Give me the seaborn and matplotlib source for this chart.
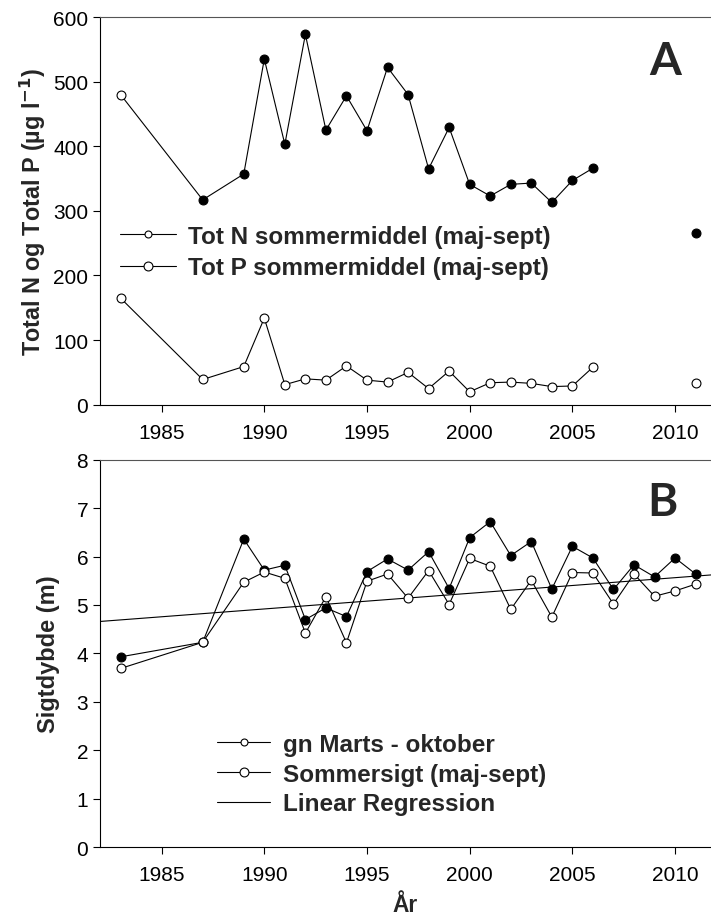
import numpy as np
import matplotlib
matplotlib.use("Agg")
import matplotlib.pyplot as plt
from matplotlib.lines import Line2D
import seaborn as sns

# Panel A: total N and total P, summer means (ug/l)
n_years = [1983, 1987, 1989, 1990, 1991, 1992, 1993, 1994, 1995, 1996, 1997,
           1998, 1999, 2000, 2001, 2002, 2003, 2004, 2005, 2006]
n_values = [480, 317, 357, 535, 403, 573, 425, 478, 424, 522, 480,
            365, 429, 341, 323, 341, 343, 313, 347, 366]
n_late_year = [2011]
n_late_value = [265]

p_years = [1983, 1987, 1989, 1990, 1991, 1992, 1993, 1994, 1995, 1996, 1997,
           1998, 1999, 2000, 2001, 2002, 2003, 2004, 2005, 2006]
p_values = [165, 39, 59, 134, 31, 40, 38, 60, 38, 35, 50,
            25, 52, 20, 34, 35, 33, 28, 29, 58]
p_late_year = [2011]
p_late_value = [34]

# Panel B: Secchi depth (m)
s_years = [1983, 1987, 1989, 1990, 1991, 1992, 1993, 1994, 1995, 1996, 1997,
           1998, 1999, 2000, 2001, 2002, 2003, 2004, 2005, 2006, 2007, 2008,
           2009, 2010, 2011]
marts_okt = [3.93, 4.23, 6.36, 5.72, 5.82, 4.70, 4.94, 4.76, 5.69, 5.95, 5.72,
             6.10, 5.34, 6.39, 6.72, 6.02, 6.31, 5.33, 6.21, 5.97, 5.32, 5.83,
             5.58, 5.97, 5.64]
sommer = [3.69, 4.23, 5.47, 5.68, 5.55, 4.42, 5.17, 4.22, 5.49, 5.64, 5.14,
          5.71, 5.01, 5.96, 5.80, 4.91, 5.51, 4.75, 5.67, 5.66, 5.02, 5.64,
          5.18, 5.29, 5.43]
reg_years = [1982, 2011.75]
reg_values = [4.66, 5.62]

sns.set_theme(style="ticks")
plt.rcParams["font.family"] = ["Liberation Sans", "DejaVu Sans"]

fig = plt.figure(figsize=(7.11, 9.20), dpi=100)
ax1 = fig.add_axes([100 / 711, 1 - 405.7 / 920, 611 / 711, 387.7 / 920])
ax2 = fig.add_axes([100 / 711, 1 - 848.3 / 920, 611 / 711, 387.7 / 920])

lw = 0.8
ms = 6.4
filled = dict(marker="o", markersize=ms, markerfacecolor="black",
              markeredgecolor="black", markeredgewidth=0.8)
hollow = dict(marker="o", markersize=ms, markerfacecolor="white",
              markeredgecolor="black", markeredgewidth=0.8)

# --- panel A
sns.lineplot(x=n_years, y=n_values, ax=ax1, color="black", lw=lw)
sns.lineplot(x=p_years, y=p_values, ax=ax1, color="black", lw=lw)
ax1.plot(n_years[:1], n_values[:1], ls="none", **hollow)
ax1.plot(n_years[1:], n_values[1:], ls="none", **filled)
ax1.plot(n_late_year, n_late_value, ls="none", **filled)
ax1.plot(p_years, p_values, ls="none", **hollow)
ax1.plot(p_late_year, p_late_value, ls="none", **hollow)

ax1.set_ylim(0, 600)
ax1.set_yticks([0, 100, 200, 300, 400, 500, 600])
ax1.set_ylabel("Total N og Total P (µg l$^{\\mathbf{-1}}$)",
               fontsize=16.8, fontweight="bold", labelpad=4)
ax1.text(0.925, 0.886, "A", transform=ax1.transAxes, ha="center", va="center",
         fontsize=33, fontweight="bold", family=["Lato", "DejaVu Sans"])

hA = [Line2D([], [], color="black", lw=lw, marker="o", markersize=5,
             markerfacecolor="white", markeredgecolor="black", markeredgewidth=0.8),
      Line2D([], [], color="black", lw=lw, **hollow)]
ax1.legend(hA, ["Tot N sommermiddel (maj-sept)", "Tot P sommermiddel (maj-sept)"],
           loc="center left", bbox_to_anchor=(0.033, 0.394), frameon=False,
           prop=dict(size=17.5, weight="bold"), handlelength=2.3,
           handletextpad=0.5, labelspacing=0.35, borderpad=0, borderaxespad=0)

# --- panel B
sns.lineplot(x=s_years, y=marts_okt, ax=ax2, color="black", lw=lw)
sns.lineplot(x=s_years, y=sommer, ax=ax2, color="black", lw=lw)
sns.lineplot(x=reg_years, y=reg_values, ax=ax2, color="black", lw=lw)
ax2.plot(s_years, marts_okt, ls="none", **filled)
ax2.plot(s_years, sommer, ls="none", **hollow)

ax2.set_ylim(0, 8)
ax2.set_yticks(range(0, 9))
ax2.set_ylabel("Sigtdybde (m)", fontsize=17, fontweight="bold", labelpad=12)
ax2.set_xlabel("År", fontsize=16.5, fontweight="bold", labelpad=6)
ax2.text(0.921, 0.891, "B", transform=ax2.transAxes, ha="center", va="center",
         fontsize=33, fontweight="bold", family=["Lato", "DejaVu Sans"])

hB = [Line2D([], [], color="black", lw=lw, marker="o", markersize=5,
             markerfacecolor="white", markeredgecolor="black", markeredgewidth=0.8),
      Line2D([], [], color="black", lw=lw, **hollow),
      Line2D([], [], color="black", lw=lw)]
ax2.legend(hB, ["gn Marts - oktober", "Sommersigt (maj-sept)", "Linear Regression"],
           loc="center left", bbox_to_anchor=(0.1915, 0.189), frameon=False,
           prop=dict(size=17.5, weight="bold"), handlelength=2.2,
           handletextpad=0.5, labelspacing=0.28, borderpad=0, borderaxespad=0)

for ax in (ax1, ax2):
    ax.set_xlim(1982, 2011.75)
    ax.set_xticks([1985, 1990, 1995, 2000, 2005, 2010])
    ax.tick_params(axis="both", direction="out", length=5, width=0.8,
                   labelsize=15, color="black", labelcolor="black")
    ax.tick_params(axis="x", pad=8)
    ax.spines["right"].set_visible(False)
    for s in ("left", "bottom", "top"):
        ax.spines[s].set_linewidth(0.8)
        ax.spines[s].set_color("black")
    ax.spines["top"].set_color("#555555")

fig.savefig("out.png", dpi=100)
